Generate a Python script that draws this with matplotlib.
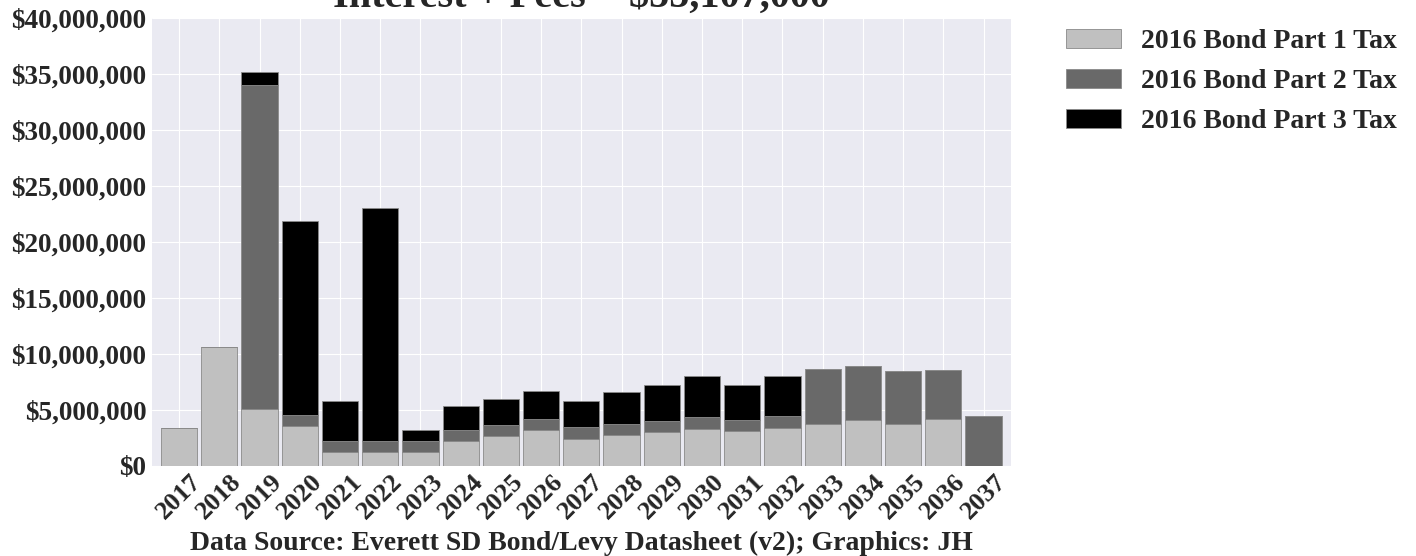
import numpy as np
import matplotlib
matplotlib.use("Agg")
import matplotlib.pyplot as plt
from matplotlib.ticker import FuncFormatter

years = [str(y) for y in range(2017, 2038)]
# values in millions of dollars
part1 = [3.42, 10.60, 5.12, 3.54, 1.22, 1.22, 1.22, 2.23, 2.65, 3.21, 2.44,
         2.77, 3.01, 3.33, 3.10, 3.42, 3.78, 4.11, 3.78, 4.22, 0.00]
part2 = [0.00, 0.00, 28.84, 1.01, 1.01, 1.01, 1.01, 0.98, 1.01, 1.01, 1.01,
         1.01, 0.98, 1.02, 1.01, 1.01, 4.91, 4.79, 4.67, 4.35, 4.43]
part3 = [0.00, 0.00, 1.19, 17.33, 3.55, 20.78, 0.98, 2.12, 2.35, 2.45, 2.33,
         2.80, 3.27, 3.69, 3.15, 3.57, 0.00, 0.00, 0.00, 0.00, 0.00]
labels = ["2016 Bond Part 1 Tax", "2016 Bond Part 2 Tax", "2016 Bond Part 3 Tax"]
colors = ["#c0c0c0", "#696969", "#000000"]

plt.style.use("seaborn-v0_8-darkgrid")
plt.rcParams["font.family"] = ["Liberation Serif", "DejaVu Serif"]
plt.rcParams["font.weight"] = "bold"

fig = plt.figure(figsize=(14.16, 5.56), dpi=100)
ax = fig.add_axes([0.1073, 0.162, 0.6065, 0.806])

x = np.arange(len(years))
p1 = np.array(part1) * 1e6
p2 = np.array(part2) * 1e6
p3 = np.array(part3) * 1e6
kw = dict(width=0.9, edgecolor="#8a8a8a", linewidth=0.6)
ax.bar(x, p1, color=colors[0], label=labels[0], **kw)
ax.bar(x, p2, bottom=p1, color=colors[1], label=labels[1], **kw)
ax.bar(x, p3, bottom=p1 + p2, color=colors[2], label=labels[2], **kw)

ax.set_xlim(-0.675, len(years) - 1 + 0.675)
ax.set_ylim(0, 40e6)
ax.set_yticks(np.arange(0, 40e6 + 1, 5e6))
ax.yaxis.set_major_formatter(FuncFormatter(lambda v, p: f"${v:,.0f}"))
ax.set_xticks(x)
ax.set_xticklabels(years, rotation=45, fontsize=19, fontweight="bold")
ax.tick_params(axis="y", labelsize=19.5, pad=4)
ax.tick_params(axis="x", pad=3)
for t in ax.get_yticklabels():
    t.set_fontweight("bold")

ax.set_xlabel("Data Source: Everett SD Bond/Levy Datasheet (v2); Graphics: JH",
              fontsize=20, fontweight="bold", labelpad=5)
ax.set_title("Interest + Fees = $55,107,000", fontsize=29, fontweight="bold",
             pad=-2, y=1.03)

leg = ax.legend(loc="upper left", bbox_to_anchor=(1.051, 1.0), frameon=False,
                prop={"size": 20, "weight": "bold"}, handlelength=2.0,
                handleheight=0.7, handletextpad=0.72, labelspacing=0.52,
                borderaxespad=0)

fig.savefig("out.png", dpi=100)
